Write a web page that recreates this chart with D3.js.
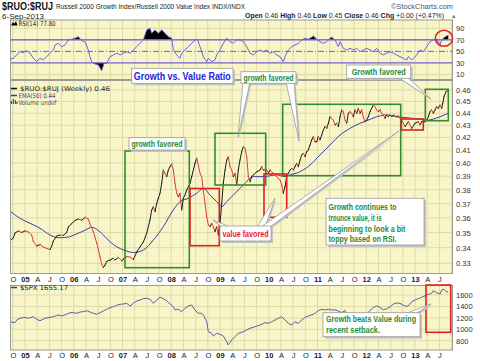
<!DOCTYPE html>
<html><head><meta charset="utf-8">
<script src="https://cdn.jsdelivr.net/npm/d3@7"></script>
<style>body{margin:0;background:#fff}svg{display:block}</style>
</head><body><svg id="c" width="480" height="361"></svg>
<script>
// ---------------- DATA ----------------
const ratioTime = [2004.707,2004.760,2004.795,2004.863,2004.932,2005.000,2005.068,2005.137,2005.170,2005.240,
2005.308,2005.375,2005.445,2005.513,2005.548,2005.581,2005.650,2005.718,2005.786,2005.855,
2005.888,2005.958,2006.026,2006.093,2006.163,2006.231,2006.298,2006.333,2006.401,2006.471,
2006.538,2006.573,2006.606,2006.641,2006.676,2006.744,2006.811,2006.846,2006.914,2006.984,
2007.016,2007.086,2007.154,2007.222,2007.291,2007.359,2007.427,2007.496,2007.564,2007.599,
2007.632,2007.667,2007.702,2007.734,2007.769,2007.804,2007.837,2007.872,2007.907,2007.940,
2007.974,2008.009,2008.042,2008.077,2008.112,2008.145,2008.179,2008.214,2008.247,2008.282,
2008.317,2008.385,2008.419,2008.487,2008.522,2008.555,2008.590,2008.624,2008.657,2008.692,
2008.727,2008.760,2008.795,2008.830,2008.863,2008.897,2008.932,2008.965,2009.000,2009.035,
2009.068,2009.103,2009.137,2009.170,2009.205,2009.240,2009.273,2009.308,2009.343,2009.375,
2009.410,2009.445,2009.478,2009.513,2009.548,2009.581,2009.615,2009.650,2009.683,2009.753,
2009.821,2009.855,2009.888,2009.958,2009.991,2010.026,2010.093,2010.163,2010.231,2010.266,
2010.298,2010.333,2010.368,2010.401,2010.436,2010.471,2010.504,2010.538,2010.573,2010.606,
2010.641,2010.676,2010.709,2010.744,2010.778,2010.811,2010.846,2010.881,2010.914,2010.949,
2010.984,2011.016,2011.051,2011.086,2011.119,2011.154,2011.189,2011.222,2011.256,2011.291,
2011.324,2011.359,2011.394,2011.427,2011.462,2011.496,2011.529,2011.564,2011.599,2011.632,
2011.667,2011.701,2011.734,2011.769,2011.804,2011.837,2011.872,2011.906,2011.939,2011.974,
2012.009,2012.042,2012.077,2012.111,2012.144,2012.179,2012.214,2012.247,2012.282,2012.316,
2012.349,2012.385,2012.419,2012.452,2012.487,2012.522,2012.555,2012.624,2012.657,2012.692,
2012.727,2012.795,2012.863,2012.932,2013.000,2013.068,2013.103,2013.137,2013.205,2013.240,
2013.273,2013.308,2013.342,2013.375,2013.410,2013.445,2013.478,2013.513,2013.548,2013.568,
2013.595,2013.636,2013.682];
const ratioValue = [0.3450,0.3464,0.3497,0.3511,0.3501,0.3511,0.3504,0.3484,0.3441,0.3411,
0.3421,0.3405,0.3395,0.3388,0.3411,0.3444,0.3477,0.3484,0.3481,0.3501,
0.3538,0.3561,0.3582,0.3592,0.3585,0.3603,0.3592,0.3558,0.3507,0.3431,
0.3343,0.3295,0.3273,0.3289,0.3312,0.3321,0.3332,0.3321,0.3337,0.3315,
0.3327,0.3343,0.3340,0.3324,0.3372,0.3405,0.3437,0.3495,0.3585,0.3655,
0.3678,0.3643,0.3702,0.3738,0.3774,0.3847,0.3946,0.3921,0.3896,0.3946,
0.3971,0.3992,0.3946,0.3847,0.3774,0.3749,0.3774,0.3655,0.3738,0.3761,
0.3798,0.3847,0.3896,0.3997,0.4036,0.3984,0.3921,0.3896,0.3798,0.3702,
0.3608,0.3551,0.3540,0.3563,0.3540,0.3506,0.3540,0.3484,0.3563,0.3702,
0.3847,0.3946,0.4022,0.4048,0.3971,0.3946,0.3896,0.3921,0.3834,0.3946,
0.4022,0.4087,0.4126,0.4114,0.4048,0.3896,0.3858,0.3896,0.3909,0.3933,
0.3946,0.3971,0.3946,0.3946,0.3921,0.3946,0.3921,0.3896,0.3871,0.3834,
0.3774,0.3822,0.3896,0.3921,0.3946,0.3959,0.3946,0.3971,0.3997,0.3971,
0.4022,0.4061,0.4075,0.4048,0.4087,0.4100,0.4140,0.4180,0.4206,0.4166,
0.4166,0.4206,0.4180,0.4220,0.4261,0.4288,0.4274,0.4316,0.4370,0.4357,
0.4343,0.4302,0.4316,0.4288,0.4370,0.4427,0.4413,0.4343,0.4316,0.4399,
0.4413,0.4399,0.4370,0.4427,0.4399,0.4441,0.4399,0.4427,0.4370,0.4329,
0.4343,0.4370,0.4413,0.4441,0.4469,0.4455,0.4427,0.4413,0.4427,0.4399,
0.4385,0.4357,0.4385,0.4370,0.4385,0.4370,0.4385,0.4370,0.4376,0.4357,
0.4343,0.4288,0.4329,0.4274,0.4316,0.4329,0.4302,0.4329,0.4329,0.4343,
0.4370,0.4413,0.4427,0.4399,0.4427,0.4455,0.4441,0.4469,0.4441,0.4484,
0.4542,0.4585,0.4600];

const emaTime = [2004.707,2004.897,2005.103,2005.308,2005.513,2005.683,2005.855,2006.061,2006.266,2006.368,
2006.471,2006.606,2006.744,2006.881,2007.051,2007.222,2007.427,2007.632,2007.837,2008.042,
2008.179,2008.350,2008.522,2008.657,2008.795,2008.932,2009.035,2009.137,2009.273,2009.478,
2009.683,2009.888,2010.163,2010.333,2010.436,2010.641,2010.846,2011.051,2011.256,2011.462,
2011.667,2011.872,2012.009,2012.214,2012.419,2012.624,2012.795,2013.103,2013.240,2013.410,
2013.513,2013.682];
const emaValue = [0.3643,0.3597,0.3563,0.3529,0.3484,0.3466,0.3469,0.3491,0.3522,0.3536,
0.3522,0.3484,0.3439,0.3406,0.3382,0.3369,0.3385,0.3450,0.3540,0.3655,
0.3714,0.3738,0.3774,0.3810,0.3761,0.3714,0.3678,0.3714,0.3761,0.3834,
0.3896,0.3896,0.3909,0.3896,0.3909,0.3933,0.3984,0.4061,0.4140,0.4220,
0.4274,0.4316,0.4337,0.4370,0.4385,0.4370,0.4364,0.4349,0.4341,0.4355,
0.4370,0.4399];

const rsiTime = [2004.692,2004.760,2004.830,2004.897,2004.965,2005.035,2005.103,2005.170,2005.240,2005.308,
2005.375,2005.445,2005.513,2005.581,2005.615,2005.683,2005.753,2005.821,2005.888,2005.958,
2006.026,2006.093,2006.163,2006.231,2006.298,2006.333,2006.368,2006.436,2006.504,2006.573,
2006.621,2006.676,2006.744,2006.811,2006.881,2006.949,2007.016,2007.086,2007.154,2007.222,
2007.291,2007.359,2007.427,2007.496,2007.564,2007.599,2007.667,2007.734,2007.804,2007.872,
2007.940,2008.009,2008.042,2008.112,2008.179,2008.214,2008.282,2008.350,2008.419,2008.487,
2008.534,2008.590,2008.657,2008.727,2008.760,2008.830,2008.897,2008.932,2009.000,2009.068,
2009.137,2009.205,2009.273,2009.343,2009.410,2009.478,2009.548,2009.615,2009.683,2009.753,
2009.821,2009.888,2009.958,2010.026,2010.093,2010.163,2010.231,2010.298,2010.333,2010.401,
2010.471,2010.538,2010.606,2010.676,2010.744,2010.811,2010.881,2010.914,2010.984,2011.051,
2011.119,2011.189,2011.256,2011.291,2011.359,2011.427,2011.462,2011.529,2011.599,2011.667,
2011.734,2011.804,2011.872,2011.939,2012.009,2012.077,2012.144,2012.214,2012.282,2012.349,
2012.419,2012.487,2012.555,2012.624,2012.692,2012.760,2012.830,2012.863,2012.932,2012.965,
2013.035,2013.103,2013.171,2013.240,2013.308,2013.375,2013.445,2013.513,2013.548,2013.615,
2013.682];
const rsiValue = [36.4,38.1,43.8,49.5,47.8,51.3,46.8,38.1,32.2,38.1,
35.2,40.9,46.8,52.5,61.1,64.1,58.2,61.1,69.8,71.0,
72.7,75.5,68.6,66.8,52.5,40.9,32.2,28.2,26.5,16.6,
29.4,29.4,40.9,43.8,46.8,43.8,46.8,49.5,46.8,52.5,
58.2,64.1,69.8,87.1,90.0,81.4,87.1,81.4,87.1,81.4,
75.5,72.7,52.5,43.8,38.1,46.8,52.5,58.2,64.1,69.8,
71.0,58.2,40.9,32.2,38.1,32.2,35.2,43.8,52.5,64.1,
72.7,66.8,64.1,69.8,69.8,66.8,58.2,46.8,43.8,49.5,
52.5,49.5,52.5,46.8,49.5,43.8,40.9,32.2,40.9,52.5,
58.2,61.1,64.1,69.8,72.7,71.0,74.5,76.7,71.0,66.8,
64.1,66.8,72.7,74.5,69.8,58.2,66.8,55.4,52.5,55.4,
52.5,55.4,49.5,52.5,55.4,52.5,49.5,55.4,46.8,43.8,
46.8,49.5,46.8,43.8,40.9,38.1,35.2,40.9,35.2,38.1,
43.8,52.5,49.5,58.2,66.8,69.8,71.0,61.1,69.8,75.5,
77.8];

const spxTime = [2004.692,2004.795,2004.830,2004.897,2005.000,2005.068,2005.170,2005.240,2005.308,2005.410,
2005.513,2005.581,2005.683,2005.753,2005.855,2005.923,2005.991,2006.061,2006.128,2006.196,
2006.266,2006.333,2006.401,2006.471,2006.538,2006.606,2006.676,2006.744,2006.811,2006.881,
2006.949,2007.016,2007.086,2007.154,2007.222,2007.291,2007.359,2007.427,2007.496,2007.564,
2007.632,2007.702,2007.769,2007.837,2007.907,2007.974,2008.042,2008.077,2008.145,2008.214,
2008.282,2008.350,2008.419,2008.487,2008.555,2008.624,2008.672,2008.727,2008.760,2008.830,
2008.863,2008.932,2009.000,2009.068,2009.137,2009.170,2009.240,2009.308,2009.375,2009.478,
2009.548,2009.615,2009.718,2009.821,2009.923,2009.991,2010.061,2010.128,2010.196,2010.266,
2010.333,2010.401,2010.471,2010.538,2010.606,2010.676,2010.744,2010.811,2010.881,2010.949,
2011.016,2011.086,2011.154,2011.222,2011.291,2011.359,2011.427,2011.496,2011.564,2011.632,
2011.701,2011.769,2011.837,2011.906,2011.974,2012.009,2012.077,2012.144,2012.214,2012.282,
2012.349,2012.419,2012.487,2012.555,2012.624,2012.692,2012.760,2012.830,2012.877,2012.932,
2013.035,2013.137,2013.240,2013.342,2013.375,2013.445,2013.513,2013.548,2013.595,2013.636,
2013.682];
const spxValue = [1132,1115,1162,1192,1210,1192,1220,1175,1150,1192,
1210,1220,1250,1232,1262,1290,1290,1280,1302,1308,
1325,1302,1280,1262,1290,1320,1350,1378,1395,1420,
1437,1442,1455,1407,1455,1495,1512,1535,1542,1525,
1455,1512,1560,1535,1500,1442,1395,1337,1350,1308,
1367,1407,1425,1337,1280,1280,1232,1132,957,929,
882,929,912,882,782,725,812,870,929,957,
987,1017,1045,1075,1115,1104,1132,1162,1192,1220,
1162,1104,1075,1132,1104,1162,1210,1232,1250,1280,
1325,1350,1337,1350,1337,1340,1320,1290,1330,1200,
1150,1170,1130,1240,1210,1260,1330,1380,1407,1385,
1340,1360,1390,1442,1460,1455,1420,1400,1420,1483,
1525,1560,1600,1630,1675,1640,1617,1688,1700,1658,
1655];

const ratioTicks = [0.33,0.34,0.35,0.36,0.37,0.38,0.39,0.40,0.41,0.42,0.43,0.44,0.45,0.46];
const rsiTicks = [10,30,50,70,90];
const spxTicks = [800,1000,1200,1400,1600];
const quarterTicks = d3.range(2004.75, 2013.76, 0.25);
const monthLetters = ["", "A", "J", "O"];

// ---------------- LAYOUT ----------------
const svg = d3.select('#c');
const L = 10, R = 453;
const P = {rsi:[19.5,80], main:[80,274], spx:[285,350.5]};
const BG = '#f8f6c8', GRID = '#dddaa8', BORDER = '#9a9a9a';
const SANS = 'Liberation Sans, Arial, sans-serif';
const LEG = 'DejaVu Sans, Verdana, sans-serif';

const x = d3.scaleLinear().domain([2004.692, 2013.779]).range([L, R]);
const yR = d3.scaleLog().domain([0.46, 0.33]).range([90, 263.3]);
const yI = d3.scaleLinear().domain([90, 10]).range([28.3, 74.5]);
const yS = d3.scaleLinear().domain([1600, 800]).range([295, 340.7]);

const ratio = ratioTime.map((t,i)=>({t, v: ratioValue[i]}));
const ema = emaTime.map((t,i)=>({t, v: emaValue[i]}));
const rsi = rsiTime.map((t,i)=>({t, v: rsiValue[i]}));
const spx = spxTime.map((t,i)=>({t, v: spxValue[i]}));

const defs = svg.append('defs');
function clip(id, y0, y1){
  defs.append('clipPath').attr('id', id).append('rect')
    .attr('x', L).attr('y', y0).attr('width', R-L).attr('height', y1-y0);
}
clip('cRsi', P.rsi[0], P.rsi[1]);
clip('cMain', P.main[0], P.main[1]);
clip('cSpx', P.spx[0], P.spx[1]);
clip('cRsiHi', P.rsi[0], yI(70));
clip('cRsiLo', yI(30), P.rsi[1]);

for (const k of ['rsi','main','spx']) {
  svg.append('rect').attr('x', L).attr('y', P[k][0]).attr('width', R-L)
    .attr('height', P[k][1]-P[k][0]).attr('fill', BG);
}
for (const k of ['rsi','main','spx']) {
  svg.append('g').selectAll('line').data(quarterTicks).join('line')
    .attr('x1', d=>x(d)).attr('x2', d=>x(d)).attr('y1', P[k][0]).attr('y2', P[k][1])
    .attr('stroke', GRID).attr('stroke-width', 1);
}
svg.append('g').attr('clip-path','url(#cMain)').selectAll('line').data(ratioTicks).join('line')
  .attr('x1', L).attr('x2', R).attr('y1', d=>yR(d)).attr('y2', d=>yR(d)).attr('stroke', GRID);
svg.append('g').selectAll('line').data([10,90]).join('line')
  .attr('x1', L).attr('x2', R).attr('y1', d=>yI(d)).attr('y2', d=>yI(d)).attr('stroke', GRID);
svg.append('g').selectAll('line').data(spxTicks).join('line')
  .attr('x1', L).attr('x2', R).attr('y1', d=>yS(d)).attr('y2', d=>yS(d)).attr('stroke', GRID);

// ---------- RSI panel ----------
const RSIC = '#6f5fd6';
const gR = svg.append('g').attr('clip-path','url(#cRsi)');
gR.append('path').datum(rsi).attr('clip-path','url(#cRsiHi)')
  .attr('d', d3.area().x(d=>x(d.t)).y0(yI(70)).y1(d=>yI(d.v))).attr('fill','#000');
gR.append('path').datum(rsi).attr('clip-path','url(#cRsiLo)')
  .attr('d', d3.area().x(d=>x(d.t)).y0(yI(30)).y1(d=>yI(d.v))).attr('fill','#000');
gR.selectAll('line.lv').data([70,30]).join('line').attr('class','lv')
  .attr('x1', L).attr('x2', R).attr('y1', d=>yI(d)).attr('y2', d=>yI(d))
  .attr('stroke', RSIC).attr('stroke-width', 1.2);
gR.append('line').attr('x1', L).attr('x2', R).attr('y1', yI(50)).attr('y2', yI(50))
  .attr('stroke', RSIC).attr('stroke-width', 1).attr('stroke-dasharray','6,2,1,2');
gR.append('path').datum(rsi).attr('d', d3.line().x(d=>x(d.t)).y(d=>yI(d.v)))
  .attr('fill','none').attr('stroke', RSIC).attr('stroke-width', 1);

// ---------- Main panel ----------
const gM = svg.append('g').attr('clip-path','url(#cMain)');
gM.append('path').datum(ema).attr('d', d3.line().x(d=>x(d.t)).y(d=>yR(d.v)).curve(d3.curveMonotoneX))
  .attr('fill','none').attr('stroke','#3a3ab0').attr('stroke-width', 1);
gM.selectAll('line.seg').data(d3.pairs(ratio)).join('line').attr('class','seg')
  .attr('x1', d=>x(d[0].t)).attr('y1', d=>yR(d[0].v))
  .attr('x2', d=>x(d[1].t)).attr('y2', d=>yR(d[1].v))
  .attr('stroke', d=> d[1].v >= d[0].v ? '#1a1a1a' : '#e03a3a').attr('stroke-width', 1)
  .attr('stroke-linecap','round');

// ---------- SPX panel ----------
const gS = svg.append('g').attr('clip-path','url(#cSpx)');
gS.append('path').datum(spx).attr('d', d3.line().x(d=>x(d.t)).y(d=>yS(d.v)))
  .attr('fill','none').attr('stroke','#5c5cab').attr('stroke-width', 1);

for (const k of ['rsi','main','spx']) {
  svg.append('rect').attr('x', L+0.5).attr('y', P[k][0]+0.5).attr('width', R-L-1)
    .attr('height', P[k][1]-P[k][0]-1).attr('fill','none').attr('stroke', BORDER).attr('stroke-width',1);
}

// ---------- Axes ----------
function styleAxis(g){
  g.select('.domain').remove();
  g.selectAll('text').attr('font-family', SANS).attr('font-size', 7.5).attr('fill','#333');
}
svg.append('g').attr('transform',`translate(${R},0)`)
  .call(d3.axisRight(yR).tickValues(ratioTicks).tickFormat(d3.format('.2f')).tickSize(0).tickPadding(3))
  .call(styleAxis);
svg.append('g').attr('transform',`translate(${R},0)`)
  .call(d3.axisRight(yI).tickValues(rsiTicks).tickSize(0).tickPadding(3)).call(styleAxis);
svg.append('g').attr('transform',`translate(${R},0)`)
  .call(d3.axisRight(yS).tickValues(spxTicks).tickFormat(d3.format('d')).tickSize(0).tickPadding(3)).call(styleAxis);

const qLabels = quarterTicks.filter(t => t < 2013.7);
function qFmt(t){
  const q = Math.round((t - Math.floor(t + 1e-6)) * 4) % 4;
  return q === 0 ? String(Math.round(t)).slice(2) : monthLetters[q];
}
function xAxisAt(y, pad){
  svg.append('g').attr('transform',`translate(0,${y})`)
    .call(d3.axisBottom(x).tickValues(qLabels).tickFormat(qFmt).tickSize(0).tickPadding(pad))
    .call(styleAxis)
    .call(g => g.selectAll('text').attr('font-weight', d => (Math.abs(d - Math.round(d)) < 1e-6) ? 'bold' : 'normal')
       .attr('fill','#222'));
}
xAxisAt(P.main[1], 3);
xAxisAt(P.spx[1], 2);

// ---------- Header ----------
function txt(s, px, py, opt){
  const t = svg.append('text').attr('x', px).attr('y', py).text(s)
    .attr('font-family', opt.font || SANS).attr('font-size', opt.size || 8)
    .attr('font-weight', opt.bold ? 'bold' : 'normal').attr('fill', opt.fill || '#222');
  if (opt.len) t.attr('textLength', opt.len).attr('lengthAdjust','spacingAndGlyphs');
  if (opt.anchor) t.attr('text-anchor', opt.anchor);
  return t;
}
txt('$RUO:$RUJ', 2, 9.8, {size: 10, bold: true, len: 51, fill:'#111'});
txt('Russell 2000 Growth Index/Russell 2000 Value Index  INDX/INDX', 56, 9.3, {size: 7.5, len: 189});
txt('©StockCharts.com', 391, 8.5, {size: 7.5, len: 62, fill:'#555'});
txt('6-Sep-2013', 2, 18.6, {size: 7.5, len: 42});
{
  const t = svg.append('text').attr('x', 245).attr('y', 18.4).attr('font-family', SANS)
    .attr('font-size', 7.5).attr('fill','#222').attr('textLength', 199).attr('lengthAdjust','spacingAndGlyphs');
  const parts = [['Open',1],[' 0.46  ',0],['High',1],[' 0.46  ',0],['Low',1],[' 0.45  ',0],['Close',1],[' 0.46  ',0],['Chg',1],[' +0.00 (+0.47%)',0]];
  parts.forEach(p => t.append('tspan').text(p[0]).attr('font-weight', p[1] ? 'bold' : 'normal'));
}
txt('▲', 451, 17.8, {size: 5.5, fill:'#2a9a2a'});

// legends
svg.append('path').attr('d','M11,25.5 L13,22 L14.5,23.5 L16,21 L17.5,25.5 Z').attr('fill','#000');
txt('RSI(14) 77.80', 18.5, 26, {font: LEG, size: 6.5, len: 37, fill:'#222'});
svg.append('line').attr('x1',11).attr('x2',17).attr('y1',88.5).attr('y2',88.5).attr('stroke','#111').attr('stroke-width',1.5);
txt('$RUO:$RUJ (Weekly) 0.46', 20, 91, {font: LEG, size: 6.5, len: 90, fill:'#222'});
svg.append('line').attr('x1',11).attr('x2',17).attr('y1',95.5).attr('y2',95.5).attr('stroke','#3a3ab0').attr('stroke-width',1.5);
txt('EMA(50) 0.44', 18.5, 98, {font: LEG, size: 6.5, len: 37, fill:'#3a3ab0'});
svg.append('path').attr('d','M11.5,104 v-3 M13.5,104 v-5 M15.5,104 v-4 M17,104 v-2').attr('stroke','#555').attr('stroke-width',1.2);
txt('Volume undef', 18.5, 104.5, {font: LEG, size: 6.5, len: 38, fill:'#555'});
svg.append('line').attr('x1',11).attr('x2',17).attr('y1',287.5).attr('y2',287.5).attr('stroke','#3a3ab0').attr('stroke-width',1.5);
txt('$SPX 1655.17', 20, 290.3, {font: LEG, size: 6.5, len: 48, fill:'#222'});

// ---------- Annotation rectangles ----------
const GREEN = '#2f8f2f', RED = '#e02020';
const greenRects = [[125,151,64.3,116.7],[215,133.3,50.7,51.7],[282.7,104.3,118,71.4],[425.3,89.3,23,31.4]];
const redRects = [[190,188.5,29.3,57.2],[264,174,22.7,43.3],[401.3,119,22,11],[426,285,24.7,47.3]];
svg.append('g').selectAll('rect').data(greenRects).join('rect')
  .attr('x', d=>d[0]).attr('y', d=>d[1]).attr('width', d=>d[2]).attr('height', d=>d[3])
  .attr('fill','none').attr('stroke', GREEN).attr('stroke-width', 1.6);
svg.append('g').selectAll('rect').data(redRects).join('rect')
  .attr('x', d=>d[0]).attr('y', d=>d[1]).attr('width', d=>d[2]).attr('height', d=>d[3])
  .attr('fill','none').attr('stroke', RED).attr('stroke-width', 1.6);
svg.append('ellipse').attr('cx', 444).attr('cy', 38.3).attr('rx', 8.6).attr('ry', 8)
  .attr('fill','none').attr('stroke', RED).attr('stroke-width', 1.5);

// ---------- Callouts ----------
const CB = '#9a9a9a', SH = '#c4c4c4';
function callout(box, tails, lines, color, size){
  const g = svg.append('g');
  tails.forEach(tp => g.append('polygon').attr('points', tp.map(p=>[p[0]+1.5,p[1]+1.5].join(',')).join(' ')).attr('fill', SH));
  g.append('rect').attr('x', box[0]+2).attr('y', box[1]+2).attr('width', box[2]).attr('height', box[3]).attr('fill', SH);
  tails.forEach(tp => g.append('polygon').attr('points', tp.map(p=>p.join(',')).join(' '))
    .attr('fill','#fff').attr('stroke', CB).attr('stroke-width', 0.8));
  g.append('rect').attr('x', box[0]).attr('y', box[1]).attr('width', box[2]).attr('height', box[3])
    .attr('fill','#fff').attr('stroke', CB).attr('stroke-width', 0.8);
  lines.forEach(l => {
    const t = g.append('text').attr('x', l[1]).attr('y', l[2]).text(l[0])
      .attr('font-family', SANS).attr('font-weight','bold').attr('font-size', size).attr('fill', color)
      .attr('textLength', l[3]).attr('lengthAdjust','spacingAndGlyphs');
    if (l[4]) t.attr('text-anchor', l[4]);
  });
}
const CGREEN = '#1f8a36', CRED = '#e51c1c', CBLUE = '#2323e0';
callout([131.7,68.3,101.3,15], [], [['Growth vs. Value Ratio',182.3,79.6,97,'middle']], CBLUE, 10.5);
callout([129,137.7,56,12.3], [], [['growth favored',157,147.2,51,'middle']], CGREEN, 8.5);
callout([241,71.7,55,11.6], [[[243,82],[250,82],[238,137]],[[286,82],[294,82],[299,141]]],
  [['growth favored',268.5,80.8,50,'middle']], CGREEN, 8.5);
callout([346.7,65,64,13.3], [[[398,77],[407,77],[431,99]]],
  [['Growth favored',378.7,75,54,'middle']], CGREEN, 8.5);
callout([220,226,51,15], [[[222,227],[230,227],[213,220]],[[257,227],[265,227],[275,198]],[[261,227],[270,227],[399,131]]],
  [['value favored',245.5,236.5,46,'middle']], CRED, 8.5);
callout([326,198.3,98,46.7], [],
  [['Growth continues to',328.5,210,68],['trounce value, it is',328.5,220.7,53],
   ['beginning to look a bit',328.5,231.5,77],['toppy based on RSI.',328.5,242,68]], CGREEN, 8.5);
callout([323,312.7,97,24], [[[407,313],[417,313],[431,304]]],
  [['Growth beats Value during',326,322,90],['recent setback.',326,332.5,54]], CGREEN, 8.5);
</script></body></html>
